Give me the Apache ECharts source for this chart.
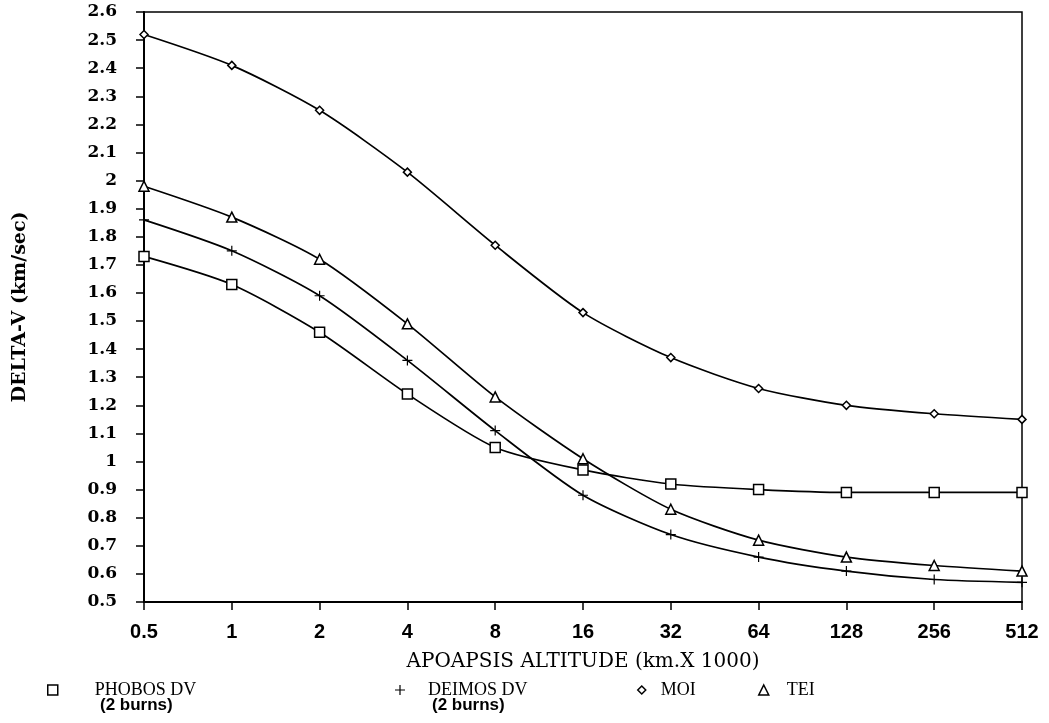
<!DOCTYPE html>
<html>
<head>
<meta charset="utf-8">
<script src="https://cdn.jsdelivr.net/npm/echarts@6/dist/echarts.min.js"></script>
<style>html,body{margin:0;padding:0;background:#fff}#c{width:1049px;height:723px}</style>
</head>
<body>
<div id="c"></div>
<script>
const categories = ['0.5','1','2','4','8','16','32','64','128','256','512'];
const phobosDV = [1.73,1.63,1.46,1.24,1.05,0.97,0.92,0.90,0.89,0.89,0.89];
const deimosDV = [1.86,1.75,1.59,1.36,1.11,0.88,0.74,0.66,0.61,0.58,0.57];
const moi      = [2.52,2.41,2.25,2.03,1.77,1.53,1.37,1.26,1.20,1.17,1.15];
const tei      = [1.98,1.87,1.72,1.49,1.23,1.01,0.83,0.72,0.66,0.63,0.61];
const yMin = 0.5, yMax = 2.6, yStep = 0.1;

const PLUS = 'path://M4.4,0H5.6V4.4H10V5.6H5.6V10H4.4V5.6H0V4.4H4.4Z';
const hollow = {color:'#fff', borderColor:'#000', borderWidth:1.5};
const serifBold = {fontFamily:'DejaVu Serif', fontWeight:'bold', color:'#000'};

function mkSeries(name, data, symbol, size, itemStyle){
  return {name, type:'line', data, symbol, symbolSize:size, smooth:0.25,
    lineStyle:{color:'#000', width:1.7}, itemStyle, z:3, showAllSymbol:true};
}
function mkLegend(name, left, top, icon, size, itemStyle, gap){
  return {data:[name], left, top, icon, itemWidth:size, itemHeight:size,
    itemStyle, formatter:'{t|{name}}',
    textStyle:{rich:{t:{fontFamily:'Liberation Serif', fontSize:18, color:'#000', padding:[0,0,0,gap]}}}};
}

const chart = echarts.init(document.getElementById('c'), null, {renderer:'canvas'});
chart.setOption({
  backgroundColor:'#fff',
  animation:false,
  grid:{left:144, right:27, top:12, bottom:121, show:true, borderColor:'#000', borderWidth:1.5},
  xAxis:{type:'category', data:categories, boundaryGap:false,
    name:'APOAPSIS ALTITUDE (km.X 1000)', nameLocation:'middle', nameGap:50,
    nameTextStyle:{fontFamily:'DejaVu Serif', fontSize:20, color:'#000'},
    axisLine:{lineStyle:{color:'#000', width:2}},
    axisTick:{length:8, lineStyle:{color:'#000', width:1.5}},
    axisLabel:{margin:20, fontFamily:'Liberation Sans', fontWeight:'bold', fontSize:20, color:'#000'},
    splitLine:{show:false}},
  yAxis:{type:'value', min:yMin, max:yMax, interval:yStep,
    name:'DELTA-V (km/sec)', nameLocation:'middle', nameGap:114, nameRotate:90,
    nameTextStyle:Object.assign({fontSize:19}, serifBold),
    axisLine:{show:true, lineStyle:{color:'#000', width:2}},
    axisTick:{show:true, length:8, lineStyle:{color:'#000', width:1.5}},
    axisLabel:Object.assign({margin:27, fontSize:17}, serifBold),
    splitLine:{show:false}},
  legend:[
    mkLegend('PHOBOS DV', 42, 676, 'rect', 10, hollow, 32),
    mkLegend('DEIMOS DV', 390, 676, PLUS, 10, {color:'#000', borderWidth:0}, 18),
    mkLegend('MOI', 632, 676, 'diamond', 8, hollow, 10),
    mkLegend('TEI', 753, 676, 'triangle', 10, hollow, 13)
  ],
  graphic:[
    {type:'text', left:100, top:697, style:{text:'(2 burns)', font:'bold 17px "Liberation Sans"', fill:'#000'}},
    {type:'text', left:432, top:697, style:{text:'(2 burns)', font:'bold 17px "Liberation Sans"', fill:'#000'}}
  ],
  series:[
    mkSeries('PHOBOS DV', phobosDV, 'rect', 10, hollow),
    mkSeries('DEIMOS DV', deimosDV, PLUS, 10, {color:'#000', borderWidth:0}),
    mkSeries('MOI', moi, 'diamond', 8, hollow),
    mkSeries('TEI', tei, 'triangle', 10, hollow)
  ]
});
</script>
</body>
</html>
